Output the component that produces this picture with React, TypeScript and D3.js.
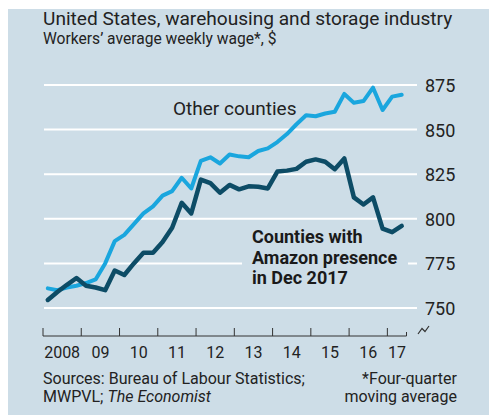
import React from "react";
import * as d3 from "d3";

const years = [2008, 2009, 2010, 2011, 2012, 2013, 2014, 2015, 2016, 2017];
const yearLabels = ["2008", "09", "10", "11", "12", "13", "14", "15", "16", "17"];
const yTicks = [750, 775, 800, 825, 850, 875];

const amazon = [754.5, 759, 763, 766.8, 762.5, 761.5, 760, 771, 768.5, 775, 781, 781, 787, 795, 809, 803, 822, 820, 814.6, 819, 816.5, 818.2, 818, 817, 826.5, 827, 828, 832, 833.3, 832, 827.8, 833.8, 812, 808, 812, 794.5, 792.5, 796];
const other = [761, 760, 761.5, 762.5, 764, 766, 775, 787.5, 791, 797, 803, 807, 813, 815.5, 823, 817, 832.5, 834.5, 831, 836, 835, 834.5, 838, 839.5, 843, 847.5, 853, 858, 857.5, 859, 860, 870, 865, 866, 873.5, 861, 868.5, 869.5];

const BG = "#cddde7";
const LIGHT = "#1aa6de";
const DARK = "#0d4c66";
const FONT = "Roboto, 'Open Sans', sans-serif";

export default function App() {
  const x = d3.scaleLinear().domain([2008, 2017.5]).range([43, 406.5]);
  const y = d3.scaleLinear().domain([750, 875]).range([308, 85]);
  const t = (i: number) => 2008 + (i + 0.5) / 4;
  const line = d3
    .line<number>()
    .x((_, i) => x(t(i)))
    .y((d) => y(d))
    .curve(d3.curveLinear);

  const xTickVals = [...years, 2017.5];

  return (
    <svg
      width={489}
      height={415}
      style={{ position: "absolute", left: 0, top: 0 }}
      fontFamily={FONT}
    >
      <rect x={0} y={0} width={489} height={415} fill="#ffffff" />
      <rect x={8} y={9} width={481} height={406} fill={BG} />

      <text x={43} y={25} fontSize={19.1} fill="#222">
        United States, warehousing and storage industry
      </text>
      <text x={43} y={44} fontSize={15.6} fill="#222">
        Workers’ average weekly wage*, $
      </text>

      {yTicks.map((v) => (
        <g key={v}>
          <line x1={44} x2={417} y1={y(v)} y2={y(v)} stroke="#ffffff" strokeWidth={2} />
          <text x={425} y={y(v) + 7} fontSize={18} fill="#222">
            {v}
          </text>
        </g>
      ))}

      <line x1={x(2008)} x2={x(2017.5)} y1={336} y2={336} stroke="#333" strokeWidth={1} />
      {xTickVals.map((v, i) => (
        <line
          key={i}
          x1={x(v)}
          x2={x(v)}
          y1={i === xTickVals.length - 1 ? 332 : 328}
          y2={336}
          stroke="#333"
          strokeWidth={1}
        />
      ))}
      {years.map((v, i) => (
        <text
          key={v}
          x={x(v + (v === 2017 ? 0.25 : 0.5))}
          y={358}
          fontSize={16}
          fill="#222"
          textAnchor="middle"
        >
          {yearLabels[i]}
        </text>
      ))}
      <path d="M418,334 L422,328.5 L425,331.5 L429,326" fill="none" stroke="#333" strokeWidth={1.2} />

      <rect x={242} y={229} width={166} height={60} fill={BG} />

      <path d={line(other) ?? ""} fill="none" stroke={LIGHT} strokeWidth={4} strokeLinejoin="round" strokeLinecap="round" />
      <path d={line(amazon) ?? ""} fill="none" stroke={DARK} strokeWidth={4.5} strokeLinejoin="round" strokeLinecap="round" />

      <text x={173} y={115} fontSize={19} fill="#222">
        Other counties
      </text>
      <g fontSize={18} fontWeight="bold" fill="#1a1a1a">
        <text x={252} y={243}>Counties with</text>
        <text x={252} y={264}>Amazon presence</text>
        <text x={252} y={284}>in Dec 2017</text>
      </g>

      <text x={43} y={384} fontSize={16} fill="#222">
        Sources: Bureau of Labour Statistics;
      </text>
      <text x={43} y={402} fontSize={16} fill="#222">
        MWPVL; <tspan fontStyle="italic">The Economist</tspan>
      </text>
      <text x={457} y={384} fontSize={16} fill="#222" textAnchor="end">
        *Four-quarter
      </text>
      <text x={457} y={402} fontSize={16} fill="#222" textAnchor="end">
        moving average
      </text>
    </svg>
  );
}
